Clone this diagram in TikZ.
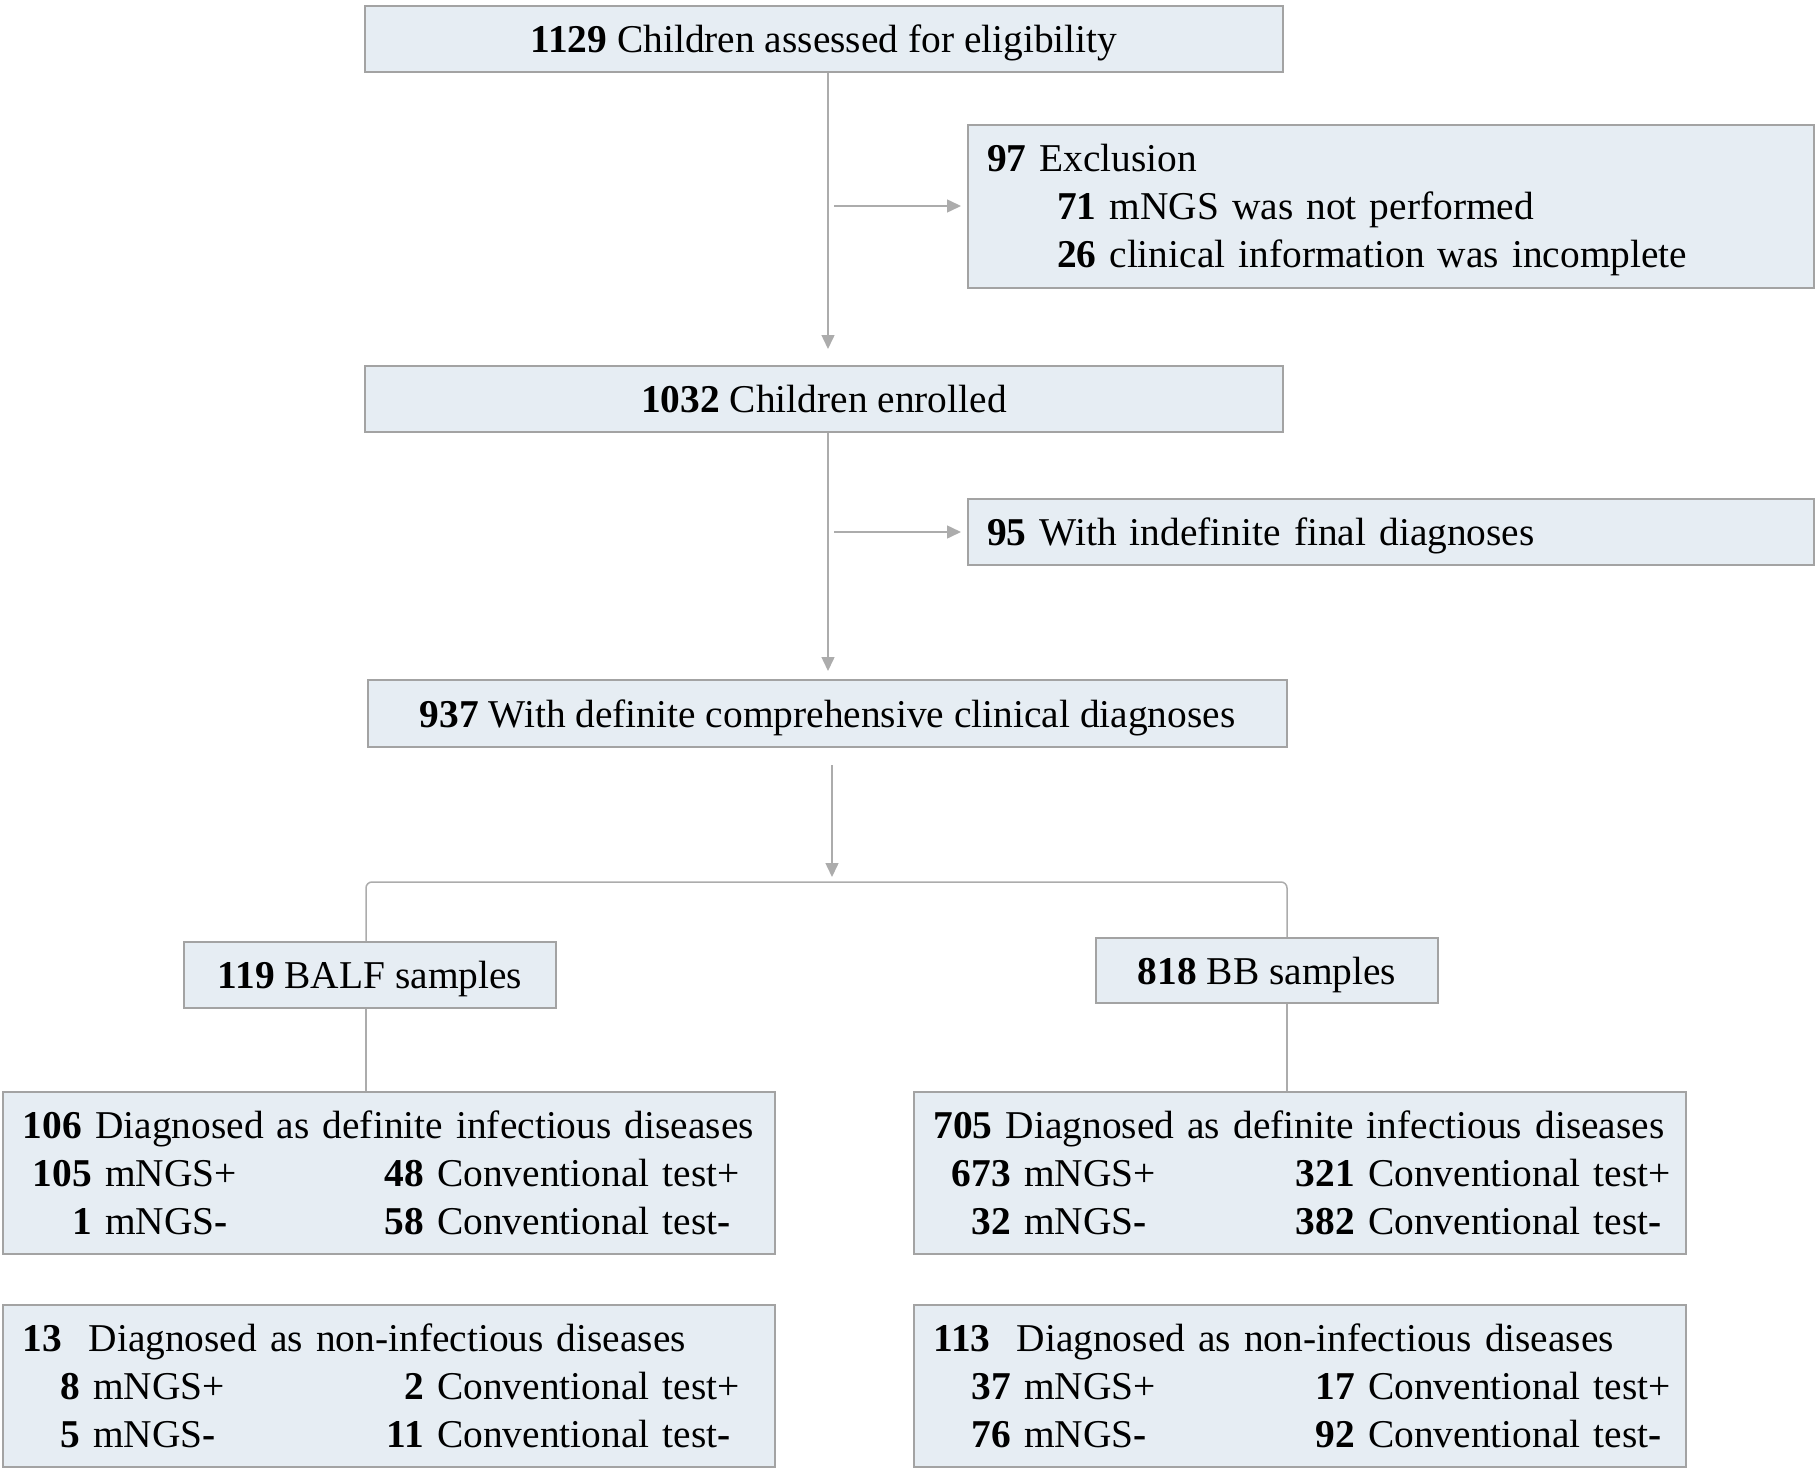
\documentclass[tikz,border=0pt]{standalone}
\usepackage{fontspec}
\setmainfont{Liberation Serif}
\usetikzlibrary{arrows.meta}

\definecolor{boxfill}{RGB}{230,237,243}
\definecolor{boxline}{RGB}{163,163,163}
\definecolor{linkline}{RGB}{172,172,172}

% count + label, number right aligned at #1
\newcommand{\cnt}[3]{\leavevmode\rlap{\hspace*{#1}\llap{\textbf{#2}}\ #3}}

\begin{document}
\begin{tikzpicture}[x=0.5pt, y=-0.5pt, font=\fontsize{19.7}{24}\selectfont,
  box/.style={draw=boxline, line width=1pt, fill=boxfill, inner sep=0pt},
  onebox/.style={box, text height=13.6pt, text depth=0pt},
  leftbox/.style={box, align=left, inner xsep=9.5pt},
  countbox/.style={box, align=left, inner xsep=10pt, text width=366pt, minimum height=81pt},
  link/.style={draw=linkline, line width=0.75pt},
  arr/.style={link, -{Triangle[width=6.5pt,length=7pt]}}]

\useasboundingbox (0,0) rectangle (1816,1472);

\node[onebox, minimum width=459pt, minimum height=33pt] (assessed) at (824,39) {\textbf{1129} Children assessed for eligibility};
\node[leftbox, text width=404pt, minimum height=81.5pt] (excl) at (1391,206.5) {\textbf{97} Exclusion\\
  \hspace*{35pt}\textbf{71} mNGS was not performed\\
  \hspace*{35pt}\textbf{26} clinical information was \smash{incomplete}};
\node[onebox, minimum width=459pt, minimum height=33pt] (enrolled) at (824,399) {\textbf{1032} Children enrolled};
\node[onebox, leftbox, text width=404pt, minimum height=33pt] (indef) at (1391,532) {\textbf{95} With indefinite final diagnoses};
\node[onebox, minimum width=459.5pt, minimum height=33.5pt] (diag) at (827.5,713.5) {\textbf{937} With definite comprehensive clinical diagnoses};

\node[onebox, minimum width=186pt, minimum height=33pt] (balf) at (370,975) {\textbf{119} BALF samples};
\node[onebox, minimum width=171pt, minimum height=32.5pt] (bb) at (1267,970.5) {\textbf{818} BB samples};

\node[countbox] (linf) at (389,1173) {\textbf{106} Diagnosed as definite infectious diseases\\
  \cnt{34.5pt}{105}{mNGS+}\cnt{200.5pt}{48}{Conventional test+}\\
  \cnt{34.5pt}{1}{mNGS\textbf{-}}\cnt{200.5pt}{58}{Conventional test\textbf{-}}};
\node[countbox] (rinf) at (1299.5,1173) {\textbf{705} Diagnosed as definite infectious diseases\\
  \cnt{38.75pt}{673}{mNGS+}\cnt{210.75pt}{321}{Conventional test+}\\
  \cnt{38.75pt}{32}{mNGS\textbf{-}}\cnt{210.75pt}{382}{Conventional test\textbf{-}}};
\node[countbox] (lnon) at (389,1386) {\textbf{13}~~Diagnosed as non-infectious diseases\\
  \cnt{28.5pt}{8}{mNGS+}\cnt{200.5pt}{2}{Conventional test+}\\
  \cnt{28.5pt}{5}{mNGS\textbf{-}}\cnt{200.5pt}{11}{Conventional test\textbf{-}}};
\node[countbox] (rnon) at (1299.5,1386) {\textbf{113}~~Diagnosed as non-infectious diseases\\
  \cnt{38.75pt}{37}{mNGS+}\cnt{210.75pt}{17}{Conventional test+}\\
  \cnt{38.75pt}{76}{mNGS\textbf{-}}\cnt{210.75pt}{92}{Conventional test\textbf{-}}};

\coordinate (spine) at (828,0);
\coordinate (tap1) at (834,206);
\coordinate (tap2) at (834,532);
\coordinate (split) at (832,882);
\coordinate (lbranch) at (366,882);
\coordinate (rbranch) at (1287,882);

\draw[arr, shorten >=8pt] (assessed.south -| spine) -- (enrolled.north -| spine);
\draw[arr, shorten >=3pt] (tap1) -- (excl.west |- tap1);
\draw[arr, shorten >=4pt] (enrolled.south -| spine) -- (diag.north -| spine);
\draw[arr, shorten >=3pt] (tap2) -- (indef.west |- tap2);
\draw[arr, shorten <=8.5pt, shorten >=2.5pt] (diag.south -| split) -- (split);
\draw[link, rounded corners=3pt] (balf.north -| lbranch) |- (rbranch) -- (bb.north -| rbranch);
\draw[link] (balf.south -| lbranch) -- (linf.north -| lbranch);
\draw[link] (bb.south -| rbranch) -- (rinf.north -| rbranch);

\end{tikzpicture}
\end{document}
